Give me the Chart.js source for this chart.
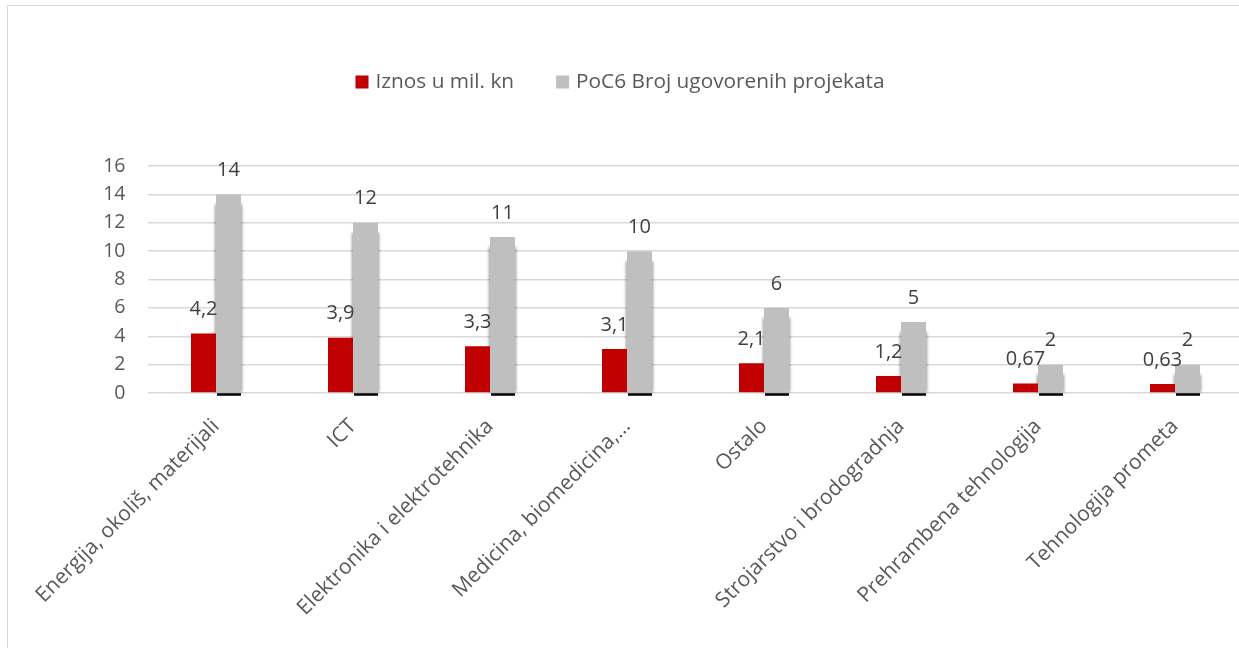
<!DOCTYPE html>
<html lang="hr">
<head>
<meta charset="UTF-8">
<title>PoC6 – ugovoreni projekti po područjima</title>
<script src="https://cdn.jsdelivr.net/npm/chart.js"></script>
<style>
    html, body {
        margin: 0;
        padding: 0;
        background: #fff;
        overflow: hidden;
    }
    body {
        width: 1239px;
        height: 648px;
        position: relative;
    }
    .frame {
        position: absolute;
        left: 7px;
        top: 5px;
        width: 1300px;
        height: 700px;
        border: 1.5px solid #d9d9d9;
    }
    .wrap {
        position: absolute;
        left: -12px;
        top: 0;
    }
</style>
</head>
<body>
<div class="frame"></div>
<div class="wrap">
    <canvas id="chart" width="1264" height="648"></canvas>
</div>

<script>
// podaci
const categories = [
    'Energija, okoliš, materijali',
    'ICT',
    'Elektronika i elektrotehnika',
    'Medicina, biomedicina,…',
    'Ostalo',
    'Strojarstvo i brodogradnja',
    'Prehrambena tehnologija',
    'Tehnologija prometa'
];
const iznos = [4.2, 3.9, 3.3, 3.1, 2.1, 1.2, 0.67, 0.63];
const brojProjekata = [14, 12, 11, 10, 6, 5, 2, 2];
const seriesNames = ['Iznos u mil. kn', 'PoC6 Broj ugovorenih projekata'];
const yTicks = [0, 2, 4, 6, 8, 10, 12, 14, 16];

const FONT = '"Open Sans", Lato, sans-serif';
const RED = '#c00000';
const GREY = '#bfbfbf';

function fmt(v) {
    return String(v).replace('.', ',');
}

// sjena ispod sivih stupaca
const barShadow = {
    id: 'barShadow',
    beforeDatasetDraw(chart, args) {
        if (args.index !== 1) return;
        const ctx = chart.ctx;
        ctx.save();
        chart.getDatasetMeta(1).data.forEach(bar => {
            const w = bar.width;
            const left = bar.x - w / 2;
            ctx.filter = 'blur(1.5px)';
            ctx.fillStyle = 'rgba(0,0,0,0.4)';
            ctx.fillRect(left - 1, bar.y + 10, w + 2, bar.base - bar.y - 10);
            ctx.filter = 'blur(0.6px)';
            ctx.fillStyle = '#000';
            ctx.fillRect(left + 1, bar.base + 1, w - 1, 2.5);
        });
        ctx.restore();
    }
};

// vrijednosti iznad stupaca
const valueLabels = {
    id: 'valueLabels',
    afterDatasetsDraw(chart) {
        const ctx = chart.ctx;
        ctx.save();
        ctx.font = '20px ' + FONT;
        ctx.fillStyle = '#404040';
        ctx.textAlign = 'center';
        ctx.textBaseline = 'middle';
        chart.data.datasets.forEach((ds, i) => {
            chart.getDatasetMeta(i).data.forEach((bar, j) => {
                ctx.fillText(fmt(ds.data[j]), bar.x, bar.y - 24);
            });
        });
        ctx.restore();
    }
};

// legenda iznad grafa
const topLegend = {
    id: 'topLegend',
    afterDraw(chart) {
        const ctx = chart.ctx;
        const box = 13, gap = 7, spacing = 42, cy = 82, cx = 632;
        ctx.save();
        ctx.font = '20.8px ' + FONT;
        ctx.textBaseline = 'middle';
        const items = chart.data.datasets.map(ds => ({
            text: ds.label,
            color: ds.backgroundColor,
            w: ctx.measureText(ds.label).width
        }));
        let total = 0;
        items.forEach((it, i) => {
            total += box + gap + it.w + (i < items.length - 1 ? spacing : 0);
        });
        let x = cx - total / 2;
        items.forEach(it => {
            ctx.fillStyle = it.color;
            ctx.fillRect(x, cy - box / 2, box, box);
            x += box + gap;
            ctx.fillStyle = '#595959';
            ctx.fillText(it.text, x, cy);
            x += it.w + spacing;
        });
        ctx.restore();
    }
};

new Chart(document.getElementById('chart'), {
    type: 'bar',
    data: {
        labels: categories,
        datasets: [
            {
                label: seriesNames[0],
                data: iznos,
                backgroundColor: RED,
                categoryPercentage: 0.365,
                barPercentage: 1
            },
            {
                label: seriesNames[1],
                data: brojProjekata,
                backgroundColor: GREY,
                categoryPercentage: 0.365,
                barPercentage: 1
            }
        ]
    },
    options: {
        responsive: false,
        animation: false,
        layout: {
            padding: { left: 9.5, right: 8.5, top: 166, bottom: 0 }
        },
        plugins: {
            legend: { display: false },
            tooltip: { enabled: false }
        },
        scales: {
            x: {
                grid: { display: false },
                border: { display: false },
                ticks: {
                    autoSkip: false,
                    minRotation: 45,
                    maxRotation: 45,
                    padding: 13,
                    color: '#595959',
                    font: { family: FONT, size: 21 }
                },
                afterFit(scale) {
                    scale.height = 255;
                }
            },
            y: {
                min: 0,
                max: 16,
                afterBuildTicks(scale) {
                    scale.ticks = yTicks.map(v => ({ value: v }));
                },
                grid: {
                    color: '#d9d9d9',
                    lineWidth: 1.5,
                    drawTicks: false
                },
                border: { display: false },
                ticks: {
                    padding: 22,
                    color: '#595959',
                    font: { family: FONT, size: 19.5 }
                },
                afterFit(scale) {
                    scale.width = 150;
                }
            }
        }
    },
    plugins: [barShadow, valueLabels, topLegend]
});
</script>
</body>
</html>
